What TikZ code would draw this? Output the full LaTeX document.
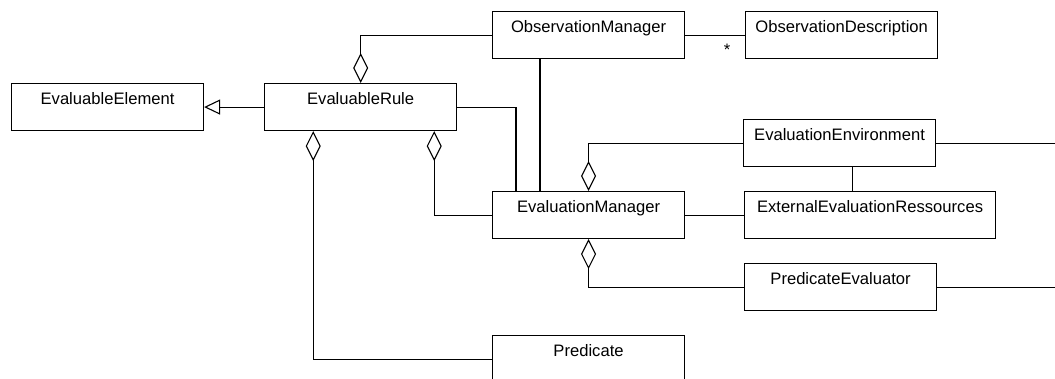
\documentclass[tikz,border=0pt]{standalone}
\usepackage{fontspec}
\setmainfont{Liberation Sans}
\usetikzlibrary{arrows.meta,positioning}

\begin{document}
\begin{tikzpicture}[
        x=1pt, y=-1pt,
        line width=1.1pt,
        every node/.style = {font=\fontsize{16.6}{20}\selectfont},
        cls/.style = {draw, anchor=north west, minimum width=192pt, inner ysep=0pt, text height=21pt, text depth=26pt},
        aggr/.style = {{Diamond[open, length=30pt, width=15pt]}-},
        inherit/.style = {-{Triangle[open, length=16pt, width=15pt]}}
    ]
    \useasboundingbox (0,0) rectangle (1055,378);
    \coordinate (rightedge) at (1055,0);

    \node[cls] (elem) at (11,83) {EvaluableElement};
    \node[cls, right=60pt of elem] (rule) {EvaluableRule};
    \node[cls] (obsman) at (492,11) {ObservationManager};
    \node[cls, right=60pt of obsman] (obsdesc) {ObservationDescription};
    \node[cls] (evalenv) at (743,119) {EvaluationEnvironment};
    \node[cls] (evalman) at (492,191) {EvaluationManager};
    \node[cls, minimum width=251pt] (extres) at (744,191) {ExternalEvaluationRessources};
    \node[cls] (predeval) at (744,263) {PredicateEvaluator};
    \node[cls] (pred) at (492,335) {Predicate};

    \draw[inherit] (rule) -- (elem);
    \draw[aggr] (rule.north) |- (obsman.west);
    \draw[aggr] ([xshift=-144pt]rule.south east) |- (pred.west);
    \draw[aggr] ([xshift=-23pt]rule.south east) |- (evalman.west);
    \draw (rule.east) -| ([xshift=24pt]evalman.north west);
    \draw ([xshift=48pt]obsman.south west) -- ([xshift=48pt]evalman.north west);
    \draw (obsman) -- node[pos=0.7, below=5pt] {*} (obsdesc);

    \draw[aggr] (evalman.north) |- (evalenv.west);
    \draw (evalenv.east) -- (evalenv.east -| rightedge);
    \draw ([xshift=13pt]evalenv.south) -- ([xshift=13pt]evalenv.south |- extres.north);
    \draw (evalman) -- (extres);
    \draw[aggr] (evalman.south) |- (predeval.west);
    \draw (predeval.east) -- (predeval.east -| rightedge);

    \end{tikzpicture}
\end{document}
